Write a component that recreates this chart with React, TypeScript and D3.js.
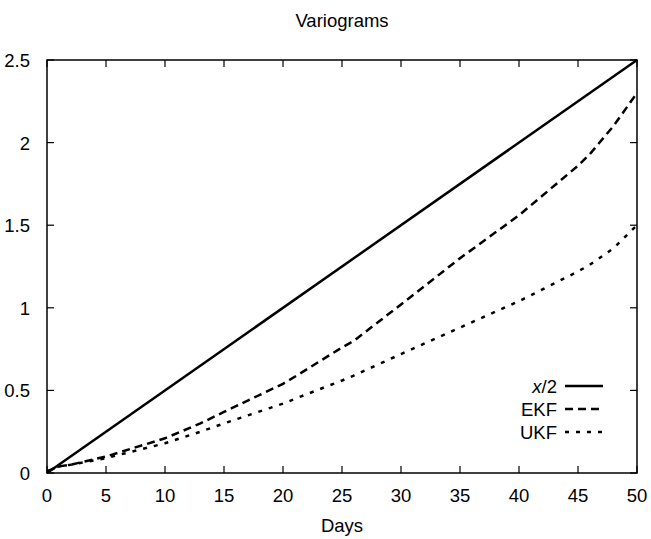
import React from "react";
import * as d3 from "d3";

const days = [0, 1, 2, 5, 10, 13, 15, 20, 21.4, 25, 26, 30, 35, 40, 45, 46, 48, 50];
const halfX = [0, 50];
const halfY = [0, 2.5];
const ekf = [0.01, 0.04, 0.05, 0.1, 0.21, 0.3, 0.37, 0.54, 0.6, 0.76, 0.8, 1.02, 1.3, 1.56, 1.86, 1.93, 2.1, 2.3];
const ukf = [0.01, 0.04, 0.05, 0.09, 0.18, 0.25, 0.3, 0.42, 0.46, 0.56, 0.59, 0.72, 0.88, 1.04, 1.22, 1.26, 1.36, 1.5];
const xTicks = [0, 5, 10, 15, 20, 25, 30, 35, 40, 45, 50];
const yTicks = [0, 0.5, 1, 1.5, 2, 2.5];
const legendLabels = ["x/2", "EKF", "UKF"];

export default function App() {
  const W = 651, H = 539;
  const left = 47, right = 637, top = 60, bottom = 473;
  const x = d3.scaleLinear().domain([0, 50]).range([left, right]);
  const y = d3.scaleLinear().domain([0, 2.5]).range([bottom, top]);
  const line = d3.line<[number, number]>().x(d => x(d[0])).y(d => y(d[1]));
  const halfPts: [number, number][] = halfX.map((d, i) => [d, halfY[i]]);
  const ekfPts: [number, number][] = days.map((d, i) => [d, ekf[i]]);
  const ukfPts: [number, number][] = days.map((d, i) => [d, ukf[i]]);
  const font = "'Liberation Sans', Arial, Helvetica, sans-serif";
  const fs = 18.5;
  const tl = 7;
  const styles = [
    { dash: "none" },
    { dash: "8,5" },
    { dash: "4,7" },
  ];
  return (
    <svg width={W} height={H} style={{ position: "absolute", left: 0, top: 0, background: "#fff" }} fontFamily={font}>
      <rect x={0} y={0} width={W} height={H} fill="#fff" />
      <text x={(left + right) / 2} y={27} textAnchor="middle" fontSize={fs}>Variograms</text>
      <text x={(left + right) / 2} y={532} textAnchor="middle" fontSize={fs}>Days</text>
      {xTicks.map(t => (
        <g key={"x" + t}>
          <line x1={x(t)} x2={x(t)} y1={bottom} y2={bottom - tl} stroke="#000" strokeWidth={1.2} />
          <line x1={x(t)} x2={x(t)} y1={top} y2={top + tl} stroke="#000" strokeWidth={1.2} />
          <text x={x(t)} y={bottom + 29} textAnchor="middle" fontSize={fs}>{t}</text>
        </g>
      ))}
      {yTicks.map(t => (
        <g key={"y" + t}>
          <line x1={left} x2={left + tl} y1={y(t)} y2={y(t)} stroke="#000" strokeWidth={1.2} />
          <line x1={right} x2={right - tl} y1={y(t)} y2={y(t)} stroke="#000" strokeWidth={1.2} />
          <text x={left - 17} y={y(t) + 7} textAnchor="end" fontSize={fs}>{t}</text>
        </g>
      ))}
      <rect x={left} y={top} width={right - left} height={bottom - top} fill="none" stroke="#000" strokeWidth={1.5} />
      <path d={line(halfPts) || ""} fill="none" stroke="#000" strokeWidth={2.5} />
      <path d={line(ekfPts) || ""} fill="none" stroke="#000" strokeWidth={2.5} strokeDasharray={styles[1].dash} />
      <path d={line(ukfPts) || ""} fill="none" stroke="#000" strokeWidth={2.5} strokeDasharray={styles[2].dash} />
      {legendLabels.map((lab, i) => {
        const ly = 386 + i * 23;
        return (
          <g key={lab}>
            <text x={557} y={ly + 7} textAnchor="end" fontSize={fs}>
              {i === 0 ? (<><tspan fontStyle="italic">x</tspan>/2</>) : lab}
            </text>
            <line x1={565} x2={603} y1={ly} y2={ly} stroke="#000" strokeWidth={2.5} strokeDasharray={styles[i].dash} />
          </g>
        );
      })}
    </svg>
  );
}
